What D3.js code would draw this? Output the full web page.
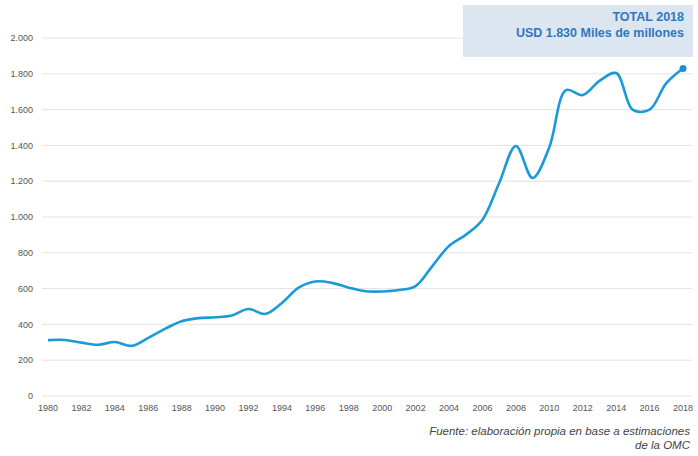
<!DOCTYPE html>
<html>
<head>
<meta charset="utf-8">
<script src="https://cdn.jsdelivr.net/npm/d3@7"></script>
<style>
  body { margin: 0; background: #fff; }
  svg { font-family: "Liberation Sans", Arial, sans-serif; }
</style>
</head>
<body>
<svg id="chart" width="698" height="456"></svg>
<script>
// valores (miles de millones USD)
const years = d3.range(1980, 2019);
const values = [312, 313, 298, 286, 302, 280, 325, 375, 418, 435, 440, 450, 486, 458, 520, 605, 640, 632, 605, 585, 584, 592, 614, 726, 838, 900, 985, 1190, 1397, 1218, 1390, 1709, 1681, 1760, 1804, 1598, 1600, 1748, 1830];
const yTicks = [0, 200, 400, 600, 800, 1000, 1200, 1400, 1600, 1800, 2000];
const xTicks = d3.range(1980, 2019, 2);
const boxLines = ["TOTAL 2018", "USD 1.830 Miles de millones"];
const sourceLines = ["Fuente: elaboración propia en base a estimaciones", "de la OMC"];

const svg = d3.select("#chart");
const fmt = d => d3.format(",")(d).replace(/,/g, ".");

x = d3.scaleLinear().domain([1980, 2018]).range([48, 683]);
y = d3.scaleLinear().domain([0, 2000]).range([396, 38]);

// lineas de grilla
svg.append("g")
    .selectAll("line")
    .data(yTicks)
    .join("line")
    .attr("x1", 42)
    .attr("x2", 692)
    .attr("y1", d => y(d))
    .attr("y2", d => y(d))
    .attr("stroke", "#e3e3e3")
    .attr("stroke-width", 1);

svg.append("g")
    .selectAll("text")
    .data(yTicks)
    .join("text")
    .attr("x", 33)
    .attr("y", d => y(d))
    .attr("dy", "0.35em")
    .attr("text-anchor", "end")
    .style("font-size", "9px")
    .attr("fill", "#555")
    .text(d => fmt(d));

svg.append("g")
    .selectAll("text")
    .data(xTicks)
    .join("text")
    .attr("x", d => x(d))
    .attr("y", 411)
    .attr("text-anchor", "middle")
    .style("font-size", "9px")
    .attr("fill", "#555")
    .text(d => d);

// recuadro del total
svg.append("rect")
    .attr("x", 463)
    .attr("y", 5)
    .attr("width", 230)
    .attr("height", 52)
    .attr("fill", "#dce6f1");

svg.append("g")
    .selectAll("text")
    .data(boxLines)
    .join("text")
    .attr("x", 684)
    .attr("y", (d, i) => 21 + i * 16)
    .attr("text-anchor", "end")
    .style("font-size", "12.5px")
    .style("font-weight", "bold")
    .attr("fill", "#2f78bd")
    .text(d => d);

// serie
line = d3.line()
    .curve(d3.curveCatmullRom.alpha(0.5))
    .x((d, i) => x(years[i]))
    .y(d => y(d));

svg.append("path")
    .attr("d", line(values))
    .attr("fill", "none")
    .attr("stroke", "#1a9ad7")
    .attr("stroke-width", 2.6)
    .attr("stroke-linejoin", "round");

svg.append("circle")
    .attr("cx", x(years[years.length - 1]))
    .attr("cy", y(values[values.length - 1]))
    .attr("r", 3.5)
    .attr("fill", "#1a8fd0");

svg.append("g")
    .selectAll("text")
    .data(sourceLines)
    .join("text")
    .attr("x", 690)
    .attr("y", (d, i) => 435 + i * 14)
    .attr("text-anchor", "end")
    .style("font-size", "11.5px")
    .style("font-style", "italic")
    .attr("fill", "#444")
    .text(d => d);
</script>
</body>
</html>
